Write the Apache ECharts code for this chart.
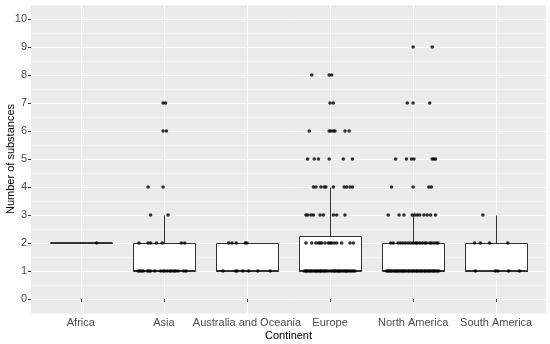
<!DOCTYPE html>
<html><head><meta charset="utf-8">
<script src="https://cdn.jsdelivr.net/npm/echarts@6/dist/echarts.min.js"></script>
<style>html,body{margin:0;padding:0;background:#fff}#c{width:550px;height:344px}</style>
</head><body><div id="c"></div>
<script>
const categories = ['Africa', 'Asia', 'Australia and Oceania', 'Europe', 'North America', 'South America'];
const yTickValues = [0, 1, 2, 3, 4, 5, 6, 7, 8, 9, 10];
// box statistics per continent: [lower whisker, Q1, median, Q3, upper whisker]
const boxStats = [
  [2, 2, 2, 2, 2],
  [1, 1, 1, 2, 3],
  [1, 1, 1, 2, 2],
  [1, 1, 1, 2.25, 4],
  [1, 1, 1, 2, 3],
  [1, 1, 1, 2, 3]
];
// jittered points: [horizontal jitter offset (category units), number of substances]
const africaPoints = [[0.19, 2]];
const asiaPoints = [
  [-0.01, 7], [0.02, 7], [-0.01, 6], [0.03, 6], [-0.19, 4], [-0.01, 4], [-0.16, 3], [0.05, 3],
  [-0.30, 2], [-0.19, 2], [-0.16, 2], [-0.09, 2], [-0.02, 2], [0.21, 2], [0.25, 2],
  [-0.31, 1], [-0.29, 1], [-0.27, 1], [-0.25, 1], [-0.20, 1], [-0.18, 1], [-0.16, 1], [-0.11, 1],
  [-0.04, 1], [-0.01, 1], [0.01, 1], [0.04, 1], [0.07, 1], [0.09, 1], [0.12, 1], [0.14, 1],
  [0.17, 1], [0.24, 1], [0.27, 1]
];
const oceaniaPoints = [
  [-0.22, 2], [-0.18, 2], [-0.13, 2], [-0.02, 2], [0.00, 2],
  [-0.29, 1], [-0.14, 1], [-0.12, 1], [-0.05, 1], [0.02, 1], [0.13, 1], [0.28, 1]
];
const europePoints = [
  [-0.22, 8], [-0.01, 8], [0.02, 8],
  [0.00, 7], [0.04, 7],
  [-0.25, 6], [-0.01, 6], [0.01, 6], [0.04, 6], [0.06, 6], [0.18, 6], [0.23, 6],
  [-0.27, 5], [-0.19, 5], [-0.14, 5], [-0.01, 5], [0.16, 5], [0.27, 5],
  [-0.20, 4], [-0.17, 4], [-0.11, 4], [-0.07, 4], [-0.05, 4], [0.04, 4], [0.17, 4], [0.20, 4], [0.24, 4], [0.27, 4],
  [-0.29, 3], [-0.27, 3], [-0.23, 3], [-0.20, 3], [-0.12, 3], [-0.08, 3], [0.04, 3], [0.08, 3], [0.18, 3],
  [-0.29, 2], [-0.22, 2], [-0.17, 2], [-0.14, 2], [-0.12, 2], [-0.10, 2], [-0.06, 2], [-0.02, 2],
  [0.00, 2], [0.02, 2], [0.05, 2], [0.08, 2], [0.14, 2], [0.24, 2], [0.28, 2],
  [-0.31, 1], [-0.29, 1], [-0.28, 1], [-0.26, 1], [-0.24, 1], [-0.23, 1], [-0.21, 1], [-0.19, 1],
  [-0.17, 1], [-0.16, 1], [-0.14, 1], [-0.12, 1], [-0.11, 1], [-0.09, 1], [-0.07, 1], [-0.06, 1],
  [-0.04, 1], [-0.02, 1], [0.01, 1], [0.03, 1], [0.05, 1], [0.06, 1], [0.08, 1], [0.10, 1],
  [0.11, 1], [0.13, 1], [0.15, 1], [0.17, 1], [0.19, 1], [0.20, 1], [0.22, 1], [0.24, 1],
  [0.26, 1], [0.28, 1], [0.30, 1]
];
const northAmericaPoints = [
  [0.00, 9], [0.23, 9],
  [-0.07, 7], [0.00, 7], [0.20, 7],
  [-0.21, 5], [-0.08, 5], [-0.02, 5], [0.01, 5], [0.23, 5], [0.25, 5], [0.27, 5],
  [-0.26, 4], [0.00, 4], [0.19, 4], [0.22, 4],
  [-0.30, 3], [-0.17, 3], [-0.11, 3], [-0.01, 3], [0.02, 3], [0.05, 3], [0.08, 3], [0.13, 3], [0.17, 3], [0.21, 3], [0.27, 3],
  [-0.27, 2], [-0.24, 2], [-0.18, 2], [-0.15, 2], [-0.12, 2], [-0.09, 2], [-0.06, 2], [-0.03, 2],
  [0.00, 2], [0.03, 2], [0.05, 2], [0.08, 2], [0.11, 2], [0.14, 2], [0.16, 2], [0.20, 2],
  [0.22, 2], [0.25, 2], [0.28, 2], [0.30, 2],
  [-0.32, 1], [-0.30, 1], [-0.29, 1], [-0.27, 1], [-0.26, 1], [-0.24, 1], [-0.22, 1], [-0.21, 1],
  [-0.19, 1], [-0.18, 1], [-0.16, 1], [-0.14, 1], [-0.13, 1], [-0.11, 1], [-0.10, 1], [-0.08, 1],
  [-0.06, 1], [-0.05, 1], [-0.03, 1], [-0.01, 1], [0.00, 1], [0.02, 1], [0.04, 1], [0.05, 1],
  [0.07, 1], [0.09, 1], [0.10, 1], [0.12, 1], [0.14, 1], [0.15, 1], [0.17, 1], [0.19, 1],
  [0.20, 1], [0.22, 1], [0.24, 1], [0.25, 1], [0.27, 1], [0.29, 1], [0.31, 1]
];
const southAmericaPoints = [
  [-0.16, 3],
  [-0.26, 2], [-0.19, 2], [-0.08, 2], [0.14, 2],
  [-0.25, 1], [-0.01, 1], [0.02, 1], [0.15, 1], [0.28, 1]
];

const pointGroups = [africaPoints, asiaPoints, oceaniaPoints, europePoints, northAmericaPoints, southAmericaPoints];
const scatterData = [];
pointGroups.forEach((pts, i) => pts.forEach(p => scatterData.push([i + p[0], p[1]])));
const boxData = boxStats.map((s, i) => [i].concat(s));

const FONT = 'Liberation Sans, Arial, sans-serif';
const chart = echarts.init(document.getElementById('c'), null, {renderer: 'canvas'});
chart.setOption({
  animation: false,
  backgroundColor: '#ffffff',
  grid: {left: 31, right: 4, top: 5, bottom: 31, show: true, backgroundColor: '#EBEBEB', borderWidth: 0,
    containLabel: false, outerBoundsMode: 'none'},
  xAxis: [{
    type: 'value', min: -0.6, max: 5.6,
    name: 'Continent', nameLocation: 'middle', nameGap: 17, nameMoveOverlap: false,
    nameTextStyle: {color: '#000', fontSize: 11, fontFamily: FONT},
    axisLine: {show: false},
    axisTick: {show: true, length: 3, customValues: [0, 1, 2, 3, 4, 5], lineStyle: {color: '#333333', width: 1}},
    axisLabel: {customValues: [0, 1, 2, 3, 4, 5], margin: 4, color: '#4D4D4D', fontSize: 11, fontFamily: FONT,
      formatter: v => categories[Math.round(v)] || ''},
    splitLine: {show: true, lineStyle: {color: '#FFFFFF', width: 1}}
  }],
  yAxis: [{
    type: 'value', min: -0.5, max: 10.5, interval: 0.5,
    axisLine: {show: false}, axisTick: {show: false}, axisLabel: {show: false},
    splitLine: {show: true, lineStyle: {color: ['#F3F3F3', '#FFFFFF'], width: 1}}
  }, {
    type: 'value', min: -0.5, max: 10.5, position: 'left',
    name: 'Number of substances', nameLocation: 'middle', nameGap: 15, nameMoveOverlap: false,
    nameTextStyle: {color: '#000', fontSize: 11, fontFamily: FONT},
    axisLine: {show: false},
    axisTick: {show: true, length: 3, customValues: yTickValues, lineStyle: {color: '#333333', width: 1}},
    axisLabel: {customValues: yTickValues, margin: 4, color: '#4D4D4D', fontSize: 11, fontFamily: FONT},
    splitLine: {show: false}
  }],
  series: [{
    type: 'custom',
    xAxisIndex: 0, yAxisIndex: 0,
    data: boxData,
    encode: {x: 0, y: [1, 2, 3, 4, 5]},
    renderItem: (params, api) => {
      const i = api.value(0);
      const mn = api.value(1), q1 = api.value(2), md = api.value(3), q3 = api.value(4), mx = api.value(5);
      const c = v => Math.round(v) + 0.5;
      const tl = api.coord([i - 0.375, q3]);
      const br = api.coord([i + 0.375, q1]);
      const xl = c(tl[0]), xr = c(br[0]), yt = c(tl[1]), yb = c(br[1]);
      const xm = c(api.coord([i, q1])[0]);
      const ymin = c(api.coord([i, mn])[1]), ymax = c(api.coord([i, mx])[1]);
      const ymed = Math.round(api.coord([i, md])[1]);
      const stroke = '#333333';
      return {type: 'group', children: [
        {type: 'line', shape: {x1: xm, y1: yt, x2: xm, y2: ymax}, style: {stroke: stroke, lineWidth: 1}},
        {type: 'line', shape: {x1: xm, y1: yb, x2: xm, y2: ymin}, style: {stroke: stroke, lineWidth: 1}},
        {type: 'rect', shape: {x: xl, y: yt, width: xr - xl, height: yb - yt}, style: {fill: '#ffffff', stroke: stroke, lineWidth: 1}},
        {type: 'line', shape: {x1: xl, y1: ymed, x2: xr, y2: ymed}, style: {stroke: stroke, lineWidth: 2}}
      ]};
    },
    z: 2
  }, {
    type: 'scatter',
    xAxisIndex: 0, yAxisIndex: 0,
    data: scatterData,
    symbol: 'circle', symbolSize: 3.6,
    itemStyle: {color: '#000000'},
    z: 3
  }]
});
</script>
</body></html>
